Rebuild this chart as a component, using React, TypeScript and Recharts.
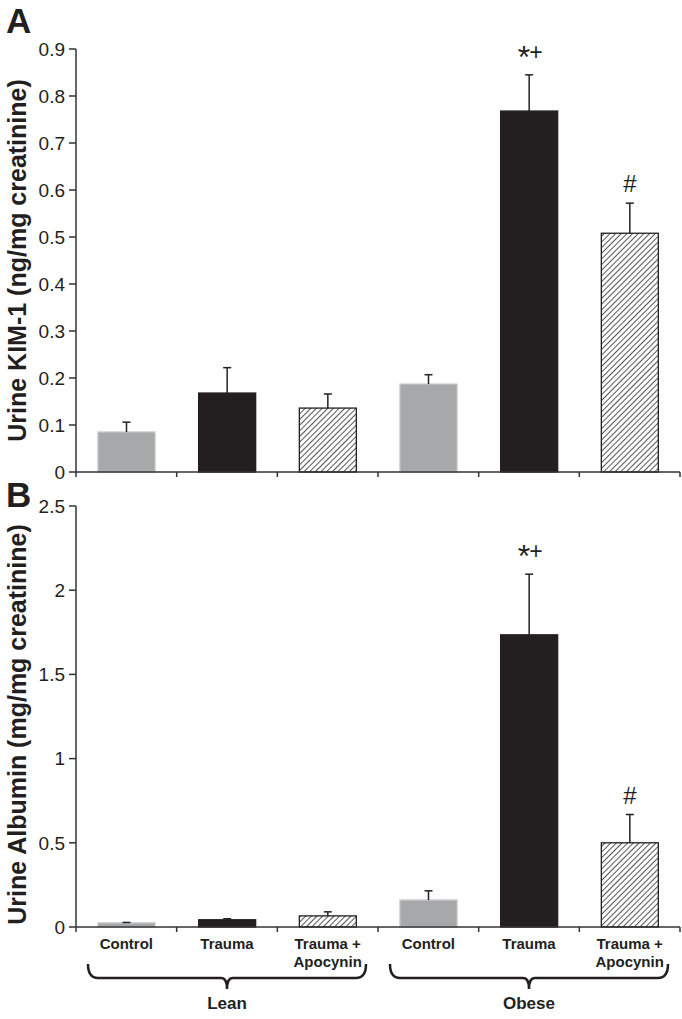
import { BarChart, Bar, XAxis, YAxis } from 'recharts';

// groups / categories (x axis)
const categories = ['Control', 'Trauma', 'Trauma +\nApocynin', 'Control', 'Trauma', 'Trauma +\nApocynin'];
const groups = ['Lean', 'Obese'];
const barIds = ['lean-ctl', 'lean-tr', 'lean-apo', 'obese-ctl', 'obese-tr', 'obese-apo'];

// panel A: urine KIM-1 (ng/mg creatinine)
const kimMeans = [0.085, 0.168, 0.136, 0.187, 0.768, 0.508];
const kimSem = [0.021, 0.054, 0.03, 0.02, 0.077, 0.064];
const kimTicks = [0, 0.1, 0.2, 0.3, 0.4, 0.5, 0.6, 0.7, 0.8, 0.9];

// panel B: urine albumin (mg/mg creatinine)
const albMeans = [0.024, 0.043, 0.066, 0.16, 1.735, 0.5];
const albSem = [0.003, 0.006, 0.024, 0.055, 0.36, 0.168];
const albTicks = [0, 0.5, 1, 1.5, 2, 2.5];

// significance marks above the bars
const marks = ['', '', '', '', '*+', '#'];

const GRAY = '#a7a8aa';
const BLACK = '#231f20';
const fills = [GRAY, BLACK, 'url(#hatch)', GRAY, BLACK, 'url(#hatch)'];
const strokes = ['#c2c2c2', BLACK, BLACK, '#c2c2c2', BLACK, BLACK];

const SANS = "'Liberation Sans', Arial, Helvetica, sans-serif";
const NARROW = "'Liberation Sans Narrow', 'Arial Narrow', 'Liberation Sans', Arial, sans-serif";

const kimData = barIds.map((id, i) => ({ id, mean: kimMeans[i], sem: kimSem[i], mark: marks[i] }));
const albData = barIds.map((id, i) => ({ id, mean: albMeans[i], sem: albSem[i], mark: marks[i] }));

// bar + upward error bar + significance mark
function BarWithError(props: any) {
  const { x, y, width, height, index, payload } = props;
  if (!payload || !payload.mean) return null;
  const pxPerUnit = height / payload.mean;
  const cx = x + width / 2;
  const errY = y - payload.sem * pxPerUnit;
  const mark: string = payload.mark;
  return (
    <g>
      <rect x={x} y={y} width={width} height={height} fill={fills[index]} stroke={strokes[index]} strokeWidth={1.3} />
      <line x1={cx} y1={y} x2={cx} y2={errY} stroke="#222" strokeWidth={1.5} />
      <line x1={cx - 4} y1={errY} x2={cx + 4} y2={errY} stroke="#222" strokeWidth={1.5} />
      {mark === '*+' && (
        <g fill="#231f20" fontFamily={SANS}>
          <text x={cx + 1} y={errY - 7} fontSize={32} textAnchor="end">*</text>
          <text x={cx} y={errY - 15} fontSize={23} textAnchor="start">+</text>
        </g>
      )}
      {mark === '#' && (
        <text x={cx} y={errY - 11} fontSize={24} textAnchor="middle" fill="#231f20" fontFamily={SANS}>#</text>
      )}
    </g>
  );
}

// x tick: boundary tick marks, plus labels / group braces on the bottom panel
function CatTick(props: any) {
  const { x, y, payload, index, visibleTicksCount, showLabels } = props;
  const half = payload.offset || 0;
  const count = visibleTicksCount || categories.length;
  const lines = categories[index].split('\n');
  return (
    <g>
      <line x1={x - half} y1={y} x2={x - half} y2={y + 5} stroke="#333" strokeWidth={1.5} />
      {index === count - 1 && (
        <line x1={x + half} y1={y} x2={x + half} y2={y + 5} stroke="#333" strokeWidth={1.5} />
      )}
      {showLabels &&
        lines.map((t: string, k: number) => (
          <text key={k} x={x} y={y + 22 + k * 18} textAnchor="middle" fontSize={15} fontWeight="bold" fontFamily={NARROW} fill="#231f20">
            {t}
          </text>
        ))}
      {showLabels && index % 3 === 1 && (
        <g>
          <path
            d={`M ${x - 3 * half + 12} ${y + 37} Q ${x - 3 * half + 12} ${y + 51} ${x - 3 * half + 22} ${y + 51}
                L ${x - 6} ${y + 51} Q ${x} ${y + 51} ${x} ${y + 62} Q ${x} ${y + 51} ${x + 6} ${y + 51}
                L ${x + 3 * half - 22} ${y + 51} Q ${x + 3 * half - 12} ${y + 51} ${x + 3 * half - 12} ${y + 37}`}
            fill="none"
            stroke="#231f20"
            strokeWidth={2.5}
          />
          <text x={x} y={y + 82} textAnchor="middle" fontSize={17} fontWeight="bold" fontFamily={NARROW} fill="#231f20">
            {groups[Math.floor(index / 3)]}
          </text>
        </g>
      )}
    </g>
  );
}

function AxisTitle(props: any) {
  const { viewBox, text, shift } = props;
  const vb = viewBox || { x: 0, y: 0, height: 0 };
  const cx = vb.x + 17;
  const cy = vb.y + vb.height / 2 + (shift || 0);
  return (
    <text
      x={cx}
      y={cy}
      transform={`rotate(-90 ${cx} ${cy})`}
      textAnchor="middle"
      dominantBaseline="central"
      fontSize={25}
      fontWeight="bold"
      fontFamily={SANS}
      fill="#231f20"
    >
      {text}
    </text>
  );
}

const tickStyle = { fontSize: 19, fill: '#231f20', fontFamily: SANS };

function Panel(props: any) {
  const { data, domain, ticks, title, height, top, xHeight, showLabels, titleShift } = props;
  return (
    <BarChart width={682} height={height} data={data} margin={{ top, right: 2, bottom: 0, left: 0 }} barCategoryGap={0}>
      <XAxis
        dataKey="id"
        interval={0}
        height={xHeight}
        tickSize={0}
        tickMargin={0}
        tickLine={false}
        axisLine={{ stroke: '#333', strokeWidth: 1.5 }}
        tick={<CatTick showLabels={showLabels} />}
      />
      <YAxis
        width={76}
        domain={domain}
        ticks={ticks}
        interval={0}
        tickSize={7}
        tickMargin={4}
        axisLine={{ stroke: '#333', strokeWidth: 1.5 }}
        tickLine={{ stroke: '#333', strokeWidth: 1.5 }}
        tick={tickStyle}
        label={<AxisTitle text={title} shift={titleShift} />}
      />
      <Bar dataKey="mean" barSize={57} shape={<BarWithError />} isAnimationActive={false} />
    </BarChart>
  );
}

export default function App() {
  return (
    <div style={{ position: 'absolute', left: 0, top: 0, width: 682, height: 1019, background: '#fff', fontFamily: SANS }}>
      <svg width={0} height={0} style={{ position: 'absolute' }}>
        <defs>
          <pattern id="hatch" width={4} height={4} patternUnits="userSpaceOnUse" patternTransform="rotate(45)">
            <rect width={4} height={4} fill="#fff" />
            <line x1={0} y1={0} x2={0} y2={4} stroke="#555" strokeWidth={2} />
          </pattern>
        </defs>
      </svg>
      <div style={{ position: 'absolute', left: 0, top: 0 }}>
        <Panel data={kimData} domain={[0, 0.9]} ticks={kimTicks} title="Urine KIM-1 (ng/mg creatinine)" height={490} top={49} xHeight={18} showLabels={false} titleShift={0} />
      </div>
      <div style={{ position: 'absolute', left: 0, top: 480 }}>
        <Panel data={albData} domain={[0, 2.5]} ticks={albTicks} title="Urine Albumin (mg/mg creatinine)" height={539} top={26} xHeight={92} showLabels={true} titleShift={8} />
      </div>
      <div style={{ position: 'absolute', left: 6, top: 1, fontSize: 35, fontWeight: 'bold', color: '#231f20', lineHeight: '40px' }}>A</div>
      <div style={{ position: 'absolute', left: 6, top: 475, fontSize: 35, fontWeight: 'bold', color: '#231f20', lineHeight: '40px' }}>B</div>
    </div>
  );
}
